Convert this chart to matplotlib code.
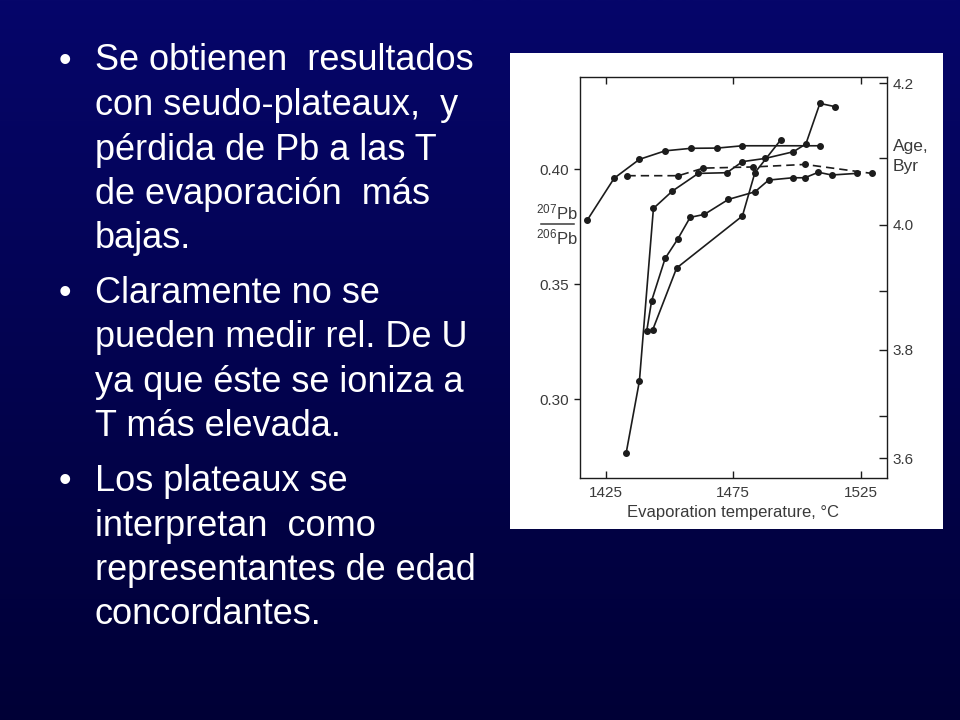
import numpy as np
import matplotlib
matplotlib.use("Agg")
import matplotlib.pyplot as plt
from matplotlib.colors import LinearSegmentedColormap
from matplotlib.patches import Rectangle
from matplotlib.lines import Line2D

plt.rcParams['font.family'] = ['Liberation Sans', 'DejaVu Sans']
plt.rcParams['mathtext.fontset'] = 'custom'
plt.rcParams['mathtext.rm'] = 'Liberation Sans'
plt.rcParams['mathtext.it'] = 'Liberation Sans:italic'
plt.rcParams['mathtext.bf'] = 'Liberation Sans:bold'

# ------------------------------------------------------------
# Daten

# Serie A (obere Kurve)
temp_a = [1417.8, 1428.3, 1438.2, 1448.3, 1458.5, 1468.8, 1478.6, 1509.0]
ratio_a = [0.3779, 0.3960, 0.4042, 0.4079, 0.4090, 0.4091, 0.4101, 0.4101]

# Serie B (gestrichelt)
temp_b = [1433.5, 1453.5, 1463.3, 1482.9, 1503.2, 1529.3]
ratio_b = [0.3971, 0.3971, 0.4004, 0.4009, 0.4020, 0.3981]

# Serie C (steiler Anstieg bis 4.2)
temp_c = [1433.0, 1438.2, 1443.7, 1451.1, 1461.3, 1472.5, 1478.6, 1487.5,
          1498.6, 1503.5, 1509.0, 1514.9]
ratio_c = [0.2766, 0.3079, 0.3829, 0.3904, 0.3981, 0.3984, 0.4032, 0.4046,
           0.4075, 0.4109, 0.4285, 0.4271]

# Serie D
temp_d = [1443.4, 1452.8, 1478.6, 1483.5, 1493.6]
ratio_d = [0.3301, 0.3570, 0.3796, 0.3984, 0.4126]

# Serie E (unteres Plateau)
temp_e = [1441.1, 1443.0, 1448.3, 1453.2, 1458.1, 1463.7, 1473.1, 1483.5,
          1488.9, 1498.3, 1503.1, 1508.4, 1513.6, 1523.4]
ratio_e = [0.3298, 0.3428, 0.3612, 0.3695, 0.3790, 0.3803, 0.3868, 0.3901,
           0.3952, 0.3962, 0.3962, 0.3986, 0.3974, 0.3981]

x_ticks = [1425, 1475, 1525]
y_ticks = [0.30, 0.35, 0.40]
y_ticklabels = ['0.30', '0.35', '0.40']

# Alter-Achse (rechts): Lage der Striche auf der Verhaeltnis-Skala
age_pos = [0.4372, 0.4046, 0.3757, 0.3470, 0.3214, 0.2928, 0.2744]
age_labels = ['4.2', '', '4.0', '', '3.8', '', '3.6']

bullets = [
    ["Se obtienen  resultados", "con seudo-plateaux,  y", "pérdida de Pb a las T",
     "de evaporación  más", "bajas."],
    ["Claramente no se", "pueden medir rel. De U", "ya que éste se ioniza a",
     "T más elevada."],
    ["Los plateaux se", "interpretan  como", "representantes de edad",
     "concordantes."],
]
baselines = [
    [70.5, 115, 159.5, 204, 248.5],
    [303, 347.5, 392, 436.5],
    [491, 535.5, 580, 624.5],
]

W, H = 960, 720


def fx(x):
    return x / W


def fy(y):
    return 1 - y / H


fig = plt.figure(figsize=(9.6, 7.2), dpi=100)

# Hintergrund mit Verlauf
bg = fig.add_axes([0, 0, 1, 1], zorder=-3)
cmap = LinearSegmentedColormap.from_list("bg", ["#000036", "#06066a"])
grad = np.linspace(0, 1, 256).reshape(-1, 1)
bg.imshow(grad, aspect='auto', cmap=cmap, origin='lower', extent=[0, 1, 0, 1])
bg.set_axis_off()

# weisses Feld fuer das Diagramm
fig.add_artist(Rectangle((fx(510), fy(529)), fx(943) - fx(510), fy(53) - fy(529),
                         transform=fig.transFigure, facecolor='white',
                         edgecolor='none', zorder=-1))

# Aufzaehlung
for lines, ys in zip(bullets, baselines):
    fig.text(fx(59), fy(ys[0]), "•", color='white', fontsize=26, va='baseline')
    for line, y in zip(lines, ys):
        fig.text(fx(95), fy(y), line, color='white', fontsize=26, va='baseline')

# ------------------------------------------------------------
# Diagramm
ink = '#1c1c1c'
txt = '#3a3a3a'
ax = fig.add_axes([fx(580), fy(478), fx(886.7) - fx(580), fy(76.7) - fy(478)], zorder=1)
ax.set_facecolor('white')

kw = dict(color=ink, marker='o', markersize=4, linewidth=1.2)
ax.plot(temp_a, ratio_a, **kw)
ax.plot(temp_b, ratio_b, linestyle=(0, (5, 3)), **kw)
ax.plot(temp_c, ratio_c, **kw)
ax.plot(temp_d, ratio_d, **kw)
ax.plot(temp_e, ratio_e, **kw)

ax.set_xlim(1414.9, 1535.2)
ax.set_ylim(0.2658, 0.4401)
ax.set_xticks(x_ticks)
ax.set_xticklabels([str(t) for t in x_ticks])
ax.set_yticks(y_ticks)
ax.set_yticklabels(y_ticklabels)
ax.tick_params(axis='x', direction='in', top=True, length=5, width=1,
               color=ink, labelsize=11, labelcolor=txt, pad=6)
ax.tick_params(axis='y', direction='out', length=4, width=1,
               color=ink, labelsize=11, labelcolor=txt, pad=4)
ax.set_xlabel("Evaporation temperature, °C", fontsize=12, color=txt, labelpad=3)
for s in ax.spines.values():
    s.set_color(ink)
    s.set_linewidth(1.0)

ax2 = ax.twinx()
ax2.set_ylim(ax.get_ylim())
ax2.set_yticks(age_pos)
ax2.set_yticklabels(age_labels)
ax2.tick_params(axis='y', direction='in', length=6, width=1, color=ink,
                labelsize=11, labelcolor=txt, pad=4)
for s in ax2.spines.values():
    s.set_visible(False)

fig.text(fx(893), fy(147), "Age,", fontsize=12.5, color=txt, ha='left', va='center')
fig.text(fx(893), fy(167), "Byr", fontsize=12.5, color=txt, ha='left', va='center')

# Bruch 207Pb / 206Pb als Achsenbeschriftung
fig.text(fx(557), fy(219), r'$^{207}$Pb', fontsize=12, color=txt,
         ha='center', va='baseline')
fig.text(fx(557), fy(244), r'$^{206}$Pb', fontsize=12, color=txt,
         ha='center', va='baseline')
fig.add_artist(Line2D([fx(541), fx(574)], [fy(224), fy(224)],
                      transform=fig.transFigure, color=txt, linewidth=1.1,
                      zorder=5))

fig.savefig("out.png", dpi=100)
